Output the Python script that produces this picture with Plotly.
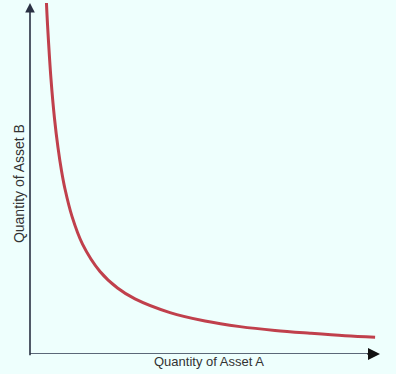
import plotly.graph_objects as go

# Curve points (data units: axes 0..10)
qty_a = [0.47, 0.5, 0.6, 0.7, 0.8, 0.9, 1.0, 1.2, 1.5, 2.0, 2.5, 3.0, 4.0, 5.0, 6.0, 7.0, 8.0, 9.0, 9.86]
qty_b = [10.0, 9.4, 7.83, 6.71, 5.88, 5.22, 4.7, 3.92, 3.13, 2.35, 1.88, 1.57, 1.18, 0.94, 0.78, 0.67, 0.59, 0.52, 0.48]
x_label = "Quantity of Asset A"
y_label = "Quantity of Asset B"

bg = "#eefffd"
fig = go.Figure()
fig.add_trace(go.Scatter(x=qty_a, y=qty_b, mode="lines",
                         line=dict(color="#c0404c", width=3, shape="spline"),
                         hoverinfo="skip", cliponaxis=True))

fig.update_layout(
    width=396, height=374,
    margin=dict(l=30, r=16, t=3, b=20),
    paper_bgcolor=bg, plot_bgcolor=bg,
    showlegend=False,
    xaxis=dict(range=[0, 10], visible=False, fixedrange=True),
    yaxis=dict(range=[0, 10], visible=False, fixedrange=True),
)

# x axis line (gray) and arrow head (black)
fig.add_shape(type="line", xref="x", yref="y", x0=-0.06, y0=0, x1=9.9, y1=0,
              line=dict(color="#5b6878", width=2), layer="above")
fig.add_annotation(x=10, y=0, ax=9.6, ay=0, xref="x", yref="y", axref="x", ayref="y",
                   showarrow=True, arrowhead=2, arrowsize=1.2, arrowwidth=2,
                   arrowcolor="#111111", text="")
# y axis line with arrow
fig.add_annotation(x=0, y=10, ax=0, ay=-0.08, xref="x", yref="y", axref="x", ayref="y",
                   showarrow=True, arrowhead=2, arrowsize=1.2, arrowwidth=1.6,
                   arrowcolor="#2a3143", text="")

fig.add_annotation(x=0.5, y=0, xref="paper", yref="paper", yshift=-7, xshift=4,
                   xanchor="center", yanchor="middle", showarrow=False,
                   text=x_label, font=dict(family="Liberation Sans, Arial", size=13, color="#333333"))
fig.add_annotation(x=0, y=0.484, xref="paper", yref="paper", xshift=-11,
                   xanchor="center", yanchor="middle", showarrow=False, textangle=-90,
                   text=y_label, font=dict(family="Liberation Sans, Arial", size=14, color="#333333"))

fig.write_html("out.html", config={"displayModeBar": False})
